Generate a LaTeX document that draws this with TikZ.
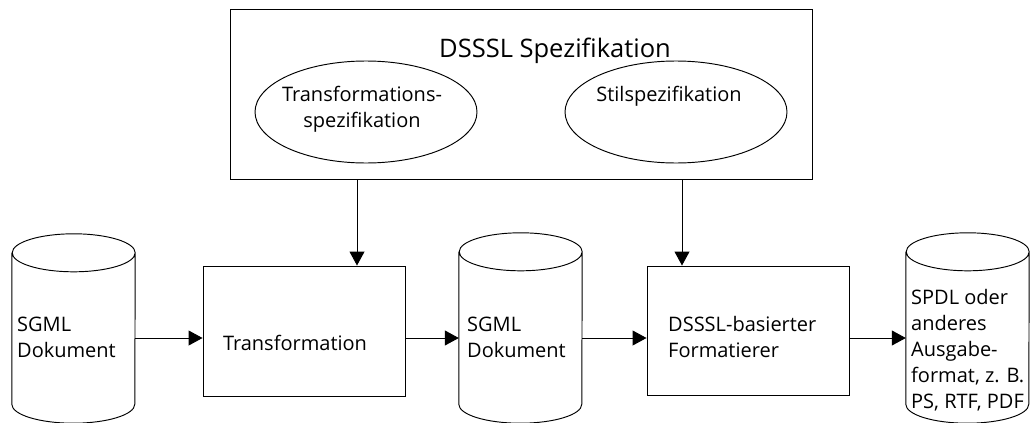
\documentclass[tikz,border=0pt]{standalone}
\usepackage{fontspec}
\setmainfont{Open Sans}
\usetikzlibrary{arrows.meta,shapes.geometric,calc}

\tikzset{
  outline/.style={draw=black, line width=0.95pt},
  frame/.style={outline, rectangle, inner sep=0pt},
  oval/.style={outline, ellipse, inner sep=0pt},
  drum/.style={rectangle, inner sep=0pt, draw=none},
  label/.style={inner sep=0pt, font=\fontsize{20}{26}\selectfont},
  heading/.style={inner sep=0pt, font=\fontsize{25.5}{30}\selectfont},
  flow/.style={line width=0.95pt, -{Triangle[length=14pt,width=15pt]}},
}

% draws a storage drum around a body node: side walls, bottom arc, top ellipse
\newcommand{\drumoutline}[3]{%
  \draw[outline] (#1.north west) -- (#1.south west)
    arc[start angle=180, end angle=360, x radius=#2, y radius=#3]
    -- (#1.north east)
    arc[start angle=0, end angle=360, x radius=#2, y radius=#3];
}

\begin{document}
\begin{tikzpicture}[x=1pt, y=-1pt]
\useasboundingbox (0,0) rectangle (1031,423);

% specification frame with its two parts
\node[frame, minimum width=582pt, minimum height=170pt] (spec) at (521,94) {};
\node[heading, anchor=base] (spectitle) at (555,57) {DSSSL Spezifikation};
\node[oval, minimum width=222pt, minimum height=102pt] (tspec) at (366,112) {};
\node[label, align=center] (tspectext) at (362,109) {Transformations-\\spezifikation};
\node[oval, minimum width=222pt, minimum height=102pt] (sspec) at (676,112) {};
\node[label, anchor=base] (sspectext) at (669,101) {Stilspezifikation};

% processing steps (base anchor of a multi-line label sits on its last line)
\node[frame, minimum width=202pt, minimum height=130pt] (trans) at (304,331) {};
\node[label, anchor=base] (transtext) at (295,350) {Transformation};
\node[frame, minimum width=202pt, minimum height=129pt] (fmt) at (748,330.5) {};
\node[label, anchor=base west, align=left] (fmttext) at (668,357) {DSSSL-basierter\\Formatierer};

% documents
\node[drum, minimum width=123pt, minimum height=151pt] (doc1) at (73.5,328.5) {};
\drumoutline{doc1}{61.5pt}{19pt}
\node[label, anchor=base west, align=left] (doc1text) at (17,357) {SGML\\Dokument};

\node[drum, minimum width=123pt, minimum height=152pt] (doc2) at (520.5,328) {};
\drumoutline{doc2}{61.5pt}{19pt}
\node[label, anchor=base west, align=left] (doc2text) at (467,357) {SGML\\Dokument};

\node[drum, minimum width=123pt, minimum height=152pt] (doc3) at (967.5,328) {};
\drumoutline{doc3}{61.5pt}{19pt}
\node[label, anchor=base west, align=left] (doc3text) at (911,408) {SPDL oder\\anderes\\Ausgabe-\\format, z. B.\\PS, RTF, PDF};

% connectors
\coordinate (tcol) at (357,0);
\coordinate (scol) at (682,0);
\coordinate (row) at (0,338);
\draw[flow] (spec.south -| tcol) -- (trans.north -| tcol);
\draw[flow] (spec.south -| scol) -- (fmt.north -| scol);
\draw[flow] (doc1.east |- row) -- (trans.west |- row);
\draw[flow] (trans.east |- row) -- (doc2.west |- row);
\draw[flow] (doc2.east |- row) -- (fmt.west |- row);
\draw[flow] (fmt.east |- row) -- (doc3.west |- row);
\end{tikzpicture}
\end{document}
